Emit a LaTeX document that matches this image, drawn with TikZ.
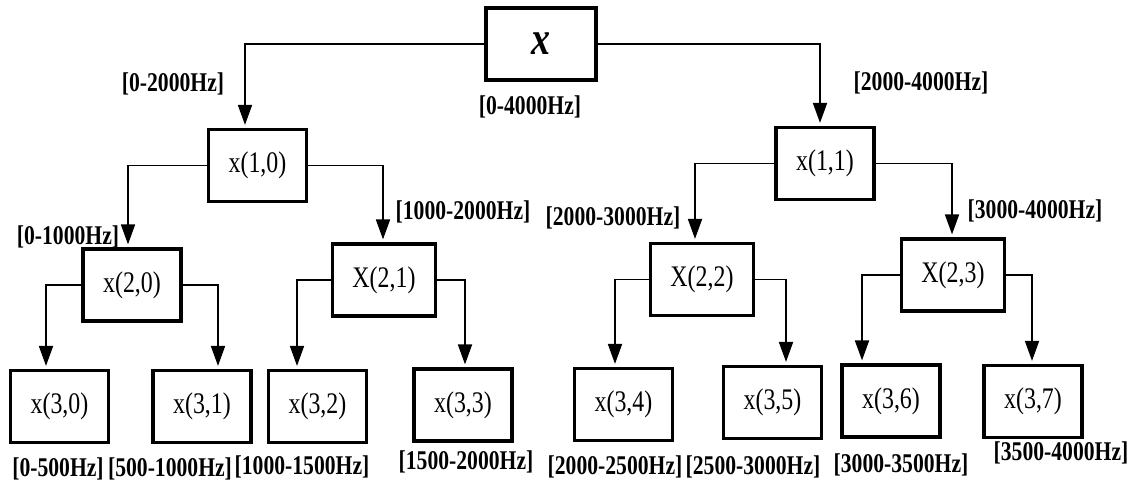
\documentclass[tikz,border=0pt]{standalone}
\usepackage{fontspec}
\setmainfont{Liberation Serif}[FakeStretch=0.8]
\usetikzlibrary{arrows.meta}

\begin{document}
\begin{tikzpicture}[
  x=0.02cm, y=-0.02cm,
  box/.style={rectangle, draw, line width=1.8pt, inner sep=0pt,
    minimum width=1.96cm, minimum height=1.44cm, font=\fontsize{17}{20}\selectfont},
  lbl/.style={inner sep=0pt, font=\fontsize{15.4}{18}\selectfont\bfseries},
  link/.style={-{Triangle[length=0.4cm, width=0.28cm]}, line width=1pt, shorten >=0.06cm}
]
  \useasboundingbox (0,0) rectangle (1142,490);

  % Root
  \node[box, minimum width=2.2cm, font=\fontsize{27}{30}\selectfont\bfseries\itshape] (root) at (541,44) {x};
  \node[lbl] (l0) at (530,107) {[0-4000Hz]};

  % Level 1
  \node[box] (x10) at (257.5,165.5) {x(1,0)};
  \node[box] (x11) at (825,163.5) {x(1,1)};

  % Level 2
  \node[box] (x20) at (132,285) {x(2,0)};
  \node[box, minimum width=2.06cm] (x21) at (384,280) {X(2,1)};
  \node[box, minimum width=2.06cm] (x22) at (702,279.5) {X(2,2)};
  \node[box, minimum width=2.06cm] (x23) at (953,275) {X(2,3)};

  % Level 3
  \node[box] (x30) at (59.5,406.5) {x(3,0)};
  \node[box] (x31) at (202,406.5) {x(3,1)};
  \node[box] (x32) at (317.5,406.5) {x(3,2)};
  \node[box] (x33) at (463,405) {x(3,3)};
  \node[box] (x34) at (623.5,404.5) {x(3,4)};
  \node[box] (x35) at (772.5,402.5) {x(3,5)};
  \node[box] (x36) at (891,401) {x(3,6)};
  \node[box] (x37) at (1033,401.5) {x(3,7)};

  % Splits
  \foreach \a/\c/\s in {root.west/x10/-12.5, root.east/x11/-5,
      x10.west/x20/-4, x10.east/x21/-1, x11.west/x22/-7, x11.east/x23/-1,
      x20.west/x30/-13.5, x20.east/x31/16, x21.west/x32/-20.5, x21.east/x33/2,
      x22.west/x34/-8.5, x22.east/x35/13.5, x23.west/x36/-29, x23.east/x37/-1}
    \draw[link] (\a) -| ([xshift=\s*0.02cm]\c.north);

  % Band labels
  \node[lbl] (l10) at (173,84) {[0-2000Hz]};
  \node[lbl] (l11) at (921,83) {[2000-4000Hz]};
  \node[lbl] (l20) at (68,237) {[0-1000Hz]};
  \node[lbl] (l21) at (463,212) {[1000-2000Hz]};
  \node[lbl] (l22) at (613,218) {[2000-3000Hz]};
  \node[lbl] (l23) at (1035,211) {[3000-4000Hz]};

  \node[lbl] (l30) at (58,469) {[0-500Hz]};
  \node[lbl] (l31) at (170,469) {[500-1000Hz]};
  \node[lbl] (l32) at (302,467) {[1000-1500Hz]};
  \node[lbl] (l33) at (466,462) {[1500-2000Hz]};
  \node[lbl] (l34) at (615,467) {[2000-2500Hz]};
  \node[lbl] (l35) at (753,467) {[2500-3000Hz]};
  \node[lbl] (l36) at (901,465) {[3000-3500Hz]};
  \node[lbl] (l37) at (1061,453) {[3500-4000Hz]};
\end{tikzpicture}
\end{document}
